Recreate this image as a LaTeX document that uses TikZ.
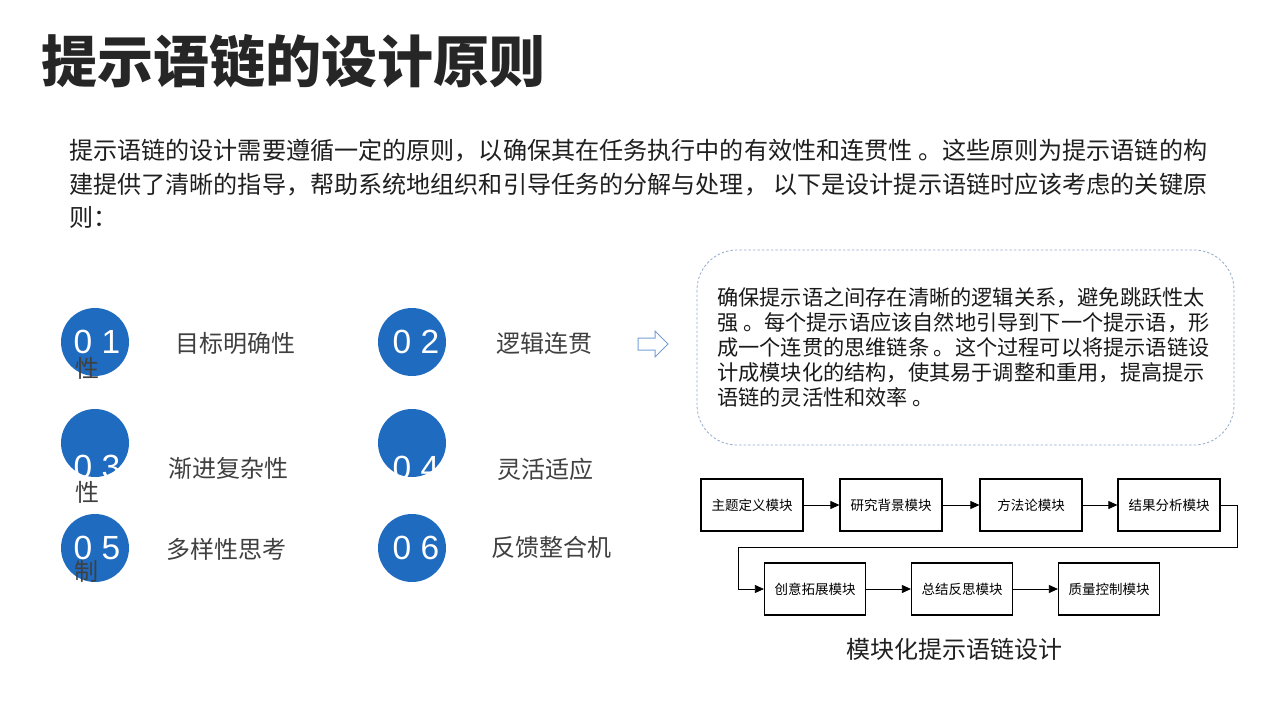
\documentclass[tikz,border=0pt]{standalone}
\usepackage{fontspec}
\setmainfont{Noto Sans CJK SC}
\newfontfamily\numfont{Liberation Sans}
\usetikzlibrary{arrows.meta}
\definecolor{circblue}{RGB}{31,107,191}
\definecolor{arrowblue}{RGB}{120,160,215}
\definecolor{dashgray}{RGB}{150,172,205}
\definecolor{titlegray}{RGB}{38,38,38}
\definecolor{labelgray}{RGB}{64,64,64}

\begin{document}
\begin{tikzpicture}
        [
            x = 1pt, y = -1pt,
            numcircle/.style = {circle, fill = circblue, minimum size = 68pt, inner sep = 0pt},
            numtext/.style = {text = white, font = \numfont\fontsize{33.5}{35}\selectfont, inner sep = 0pt},
            itemlabel/.style = {text = labelgray, font = \fontsize{24}{28}\selectfont, inner sep = 0pt},
            modbox/.style = {draw, line width = 1.2pt, minimum width = 102pt, minimum height = 52pt,
                    font = \fontsize{13.5}{15}\selectfont, inner sep = 0pt},
            flow/.style = {line width = 0.8pt, -{Triangle[length = 9pt, width = 8pt]}},
        ]

        \fill[white] (0,0) rectangle (1280,720);
        \useasboundingbox (0,0) rectangle (1280,720);

        \node[anchor = west, inner sep = 0pt, text = titlegray, font = \bfseries\fontsize{56}{60}\selectfont]
            (title) at (41,61) {提示语链的设计原则};

        \node[anchor = west, inner sep = 0pt, align = left, text = black!88, font = \fontsize{24.1}{33.5}\selectfont]
            (intro) at (69,184) {提示语链的设计需要遵循一定的原则，以确保其在任务执行中的有效性和连贯性 。这些原则为提示语链的构\\
                建提供了清晰的指导，帮助系统地组织和引导任务的分解与处理， 以下是设计提示语链时应该考虑的关键原\\
                则：};

        \node[numcircle] (c1) at (95,342) {};
        \node[numcircle] (c2) at (412,342) {};
        \node[numcircle] (c3) at (95,443) {};
        \node[numcircle] (c4) at (412,443) {};
        \node[numcircle] (c5) at (95,548) {};
        \node[numcircle] (c6) at (412,548) {};

        \node[numtext] (n1) at (97,342) {0 1};
        \node[numtext] (n2) at (416,342) {0 2};
        \node[numtext] (n3) at (97,467) {0 3};
        \node[numtext] (n4) at (416,468) {0 4};
        \node[numtext] (n5) at (97,548) {0 5};
        \node[numtext] (n6) at (416,548) {0 6};

        \node[itemlabel] (s1) at (87,368) {性};
        \node[itemlabel] (s3) at (87,492) {性};
        \node[itemlabel] (s5) at (86,571) {制};

        \node[itemlabel] (l1) at (235,343) {目标明确性};
        \node[itemlabel] (l2) at (544,343) {逻辑连贯};
        \node[itemlabel] (l3) at (228,468) {渐进复杂性};
        \node[itemlabel] (l4) at (545,469) {灵活适应};
        \node[itemlabel] (l5) at (226,549) {多样性思考};
        \node[itemlabel] (l6) at (551,547) {反馈整合机};

        \draw[arrowblue, line width = 1pt, line join = miter]
            (638,338) -- (655,338) -- (655,331) -- (668,344) -- (655,357) -- (655,350) -- (638,350) -- cycle;

        \draw[dashgray, line width = 0.8pt, dash pattern = on 2.5pt off 2pt, rounded corners = 40pt]
            (697,250) rectangle (1234,445);
        \node[anchor = west, inner sep = 0pt, align = left, text = black!90, font = \fontsize{21.2}{25}\selectfont]
            (logic) at (717,347) {确保提示语之间存在清晰的逻辑关系，避免跳跃性太\\
                强 。每个提示语应该自然地引导到下一个提示语，形\\
                成一个连贯的思维链条 。这个过程可以将提示语链设\\
                计成模块化的结构，使其易于调整和重用，提高提示\\
                语链的灵活性和效率 。};

        \node[modbox] (m1) at (752,505) {主题定义模块};
        \node[modbox] (m2) at (891,505) {研究背景模块};
        \node[modbox] (m3) at (1031,505) {方法论模块};
        \node[modbox] (m4) at (1169,505) {结果分析模块};
        \node[modbox, minimum width = 101pt] (m5) at (815,589) {创意拓展模块};
        \node[modbox, minimum width = 101pt] (m6) at (962,589) {总结反思模块};
        \node[modbox, minimum width = 101pt] (m7) at (1109,589) {质量控制模块};

        \coordinate (r1) at (1237,505);
        \coordinate (r2) at (1237,547);
        \coordinate (r3) at (738,547);

        \draw[flow] (m1) -- (m2);
        \draw[flow] (m2) -- (m3);
        \draw[flow] (m3) -- (m4);
        \draw[flow] (m4.east) -- (r1) -- (r2) -- (r3) |- (m5.west);
        \draw[flow] (m5) -- (m6);
        \draw[flow] (m6) -- (m7);

        \node[inner sep = 0pt, text = black!88, font = \fontsize{24}{28}\selectfont]
            (caption) at (954,649) {模块化提示语链设计};

    \end{tikzpicture}
\end{document}
